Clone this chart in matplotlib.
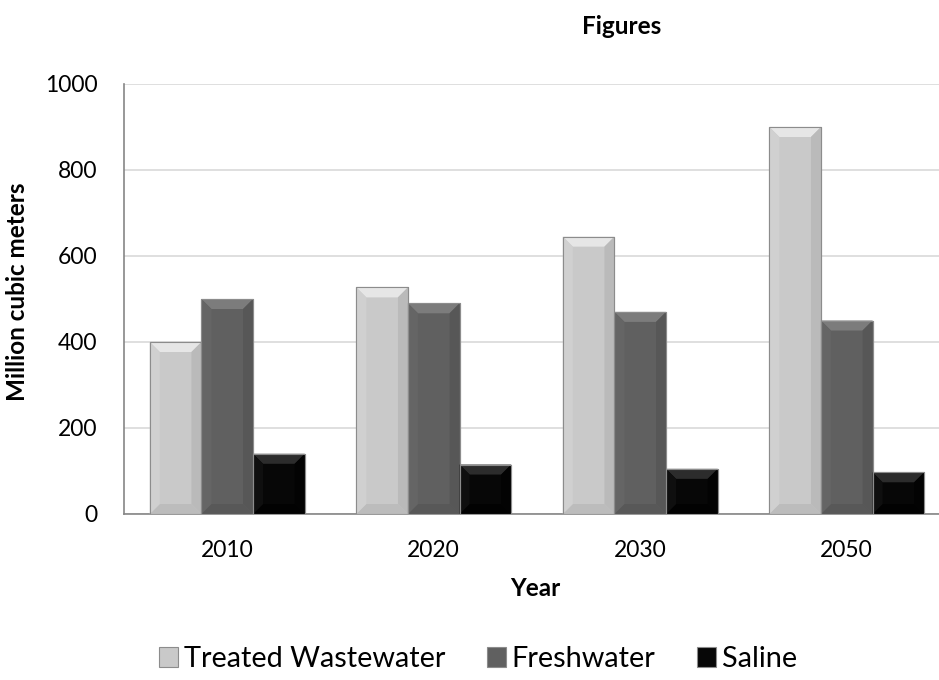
import matplotlib
matplotlib.use("Agg")
import matplotlib.pyplot as plt
from matplotlib.patches import Polygon, Rectangle
import numpy as np

plt.rcParams['font.family'] = ['Lato', 'DejaVu Sans']

years = ["2010", "2020", "2030", "2050"]
treated_wastewater = [400, 527, 645, 900]
freshwater = [500, 490, 470, 450]
saline = [140, 115, 105, 97]

# name, values, face, top bevel, bottom bevel, left bevel, right bevel
series = [
    ("Treated Wastewater", treated_wastewater, "#c9c9c9", "#e6e6e6", "#bcbcbc", "#d0d0d0", "#bababa"),
    ("Freshwater", freshwater, "#606060", "#7c7c7c", "#585858", "#656565", "#575757"),
    ("Saline", saline, "#070707", "#2c2c2c", "#020202", "#0f0f0f", "#030303"),
]

W, H, DPI = 939, 680, 100
fig = plt.figure(figsize=(W / DPI, H / DPI), dpi=DPI)
ax_left, ax_bottom, ax_right, ax_top = 124, 514, 939, 84
ax = fig.add_axes([ax_left / W, 1 - ax_bottom / H,
                   (ax_right - ax_left) / W, (ax_bottom - ax_top) / H])

xlim = (-0.5, (ax_right - ax_left) / 206.5 - 0.5)
ylim = (0, 1000)
ax.set_xlim(*xlim)
ax.set_ylim(*ylim)

# pixel -> data scale for the bevel geometry
px_x = (xlim[1] - xlim[0]) / (ax_right - ax_left)
px_y = (ylim[1] - ylim[0]) / (ax_bottom - ax_top)
bevel = 10

x = np.arange(len(years))
width = 0.25
for k, (name, vals, face, top_c, bot_c, left_c, right_c) in enumerate(series):
    bars = ax.bar(x + (k - 1) * width, vals, width, color=face,
                  edgecolor="#8c8c8c", linewidth=0.8, zorder=3, label=name)
    for b in bars:
        x0, y0 = b.get_x(), b.get_y()
        x1, y1 = x0 + b.get_width(), y0 + b.get_height()
        bx, by = bevel * px_x, bevel * px_y
        pieces = [
            ([(x0, y1), (x1, y1), (x1 - bx, y1 - by), (x0 + bx, y1 - by)], top_c),
            ([(x0, y0), (x1, y0), (x1 - bx, y0 + by), (x0 + bx, y0 + by)], bot_c),
            ([(x0, y0), (x0, y1), (x0 + bx, y1 - by), (x0 + bx, y0 + by)], left_c),
            ([(x1, y0), (x1, y1), (x1 - bx, y1 - by), (x1 - bx, y0 + by)], right_c),
        ]
        for pts, c in pieces:
            ax.add_patch(Polygon(pts, closed=True, facecolor=c, edgecolor="none", zorder=4))
        ax.add_patch(Rectangle((x0, y0), x1 - x0, y1 - y0, fill=False,
                               edgecolor="#8c8c8c", linewidth=0.8, zorder=5))

ax.set_yticks(np.arange(0, 1001, 200))
ax.set_xticks(x)
ax.set_xticklabels(years)
ax.yaxis.grid(True, color="#d9d9d9", linewidth=1.2, zorder=0)
ax.set_axisbelow(True)
ax.tick_params(axis="both", length=0, labelsize=16.5, colors="#000000")
ax.tick_params(axis="y", pad=19)
ax.tick_params(axis="x", pad=19)
for s in ("top", "right"):
    ax.spines[s].set_visible(False)
for s in ("left", "bottom"):
    ax.spines[s].set_color("#868686")
    ax.spines[s].set_linewidth(1.2)

fig.text(622 / W, 1 - 27 / H, "Figures", ha="center", va="center",
         fontsize=17.5, fontweight="bold")
fig.text(535 / W, 1 - 588 / H, "Year", ha="center", va="center",
         fontsize=17.5, fontweight="bold")
fig.text(18 / W, 1 - 292 / H, "Million cubic meters", ha="center", va="center",
         rotation=90, fontsize=17.5, fontweight="bold")

leg = fig.legend(loc="center", bbox_to_anchor=(478 / W, 1 - 659 / H), ncol=3,
                 frameon=False, fontsize=20.8, handlelength=0.66, handleheight=0.66,
                 columnspacing=1.45, handletextpad=0.2, borderpad=0, borderaxespad=0)

fig.savefig("out.png", dpi=DPI, facecolor="white")
